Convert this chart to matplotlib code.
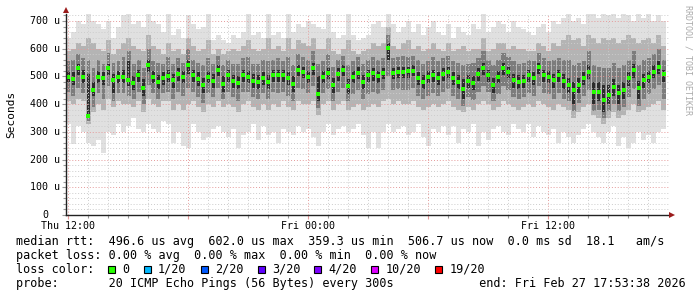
import matplotlib
matplotlib.use("Agg")
import matplotlib.pyplot as plt
import numpy as np
from matplotlib.patches import Rectangle

# ---------------- data (microseconds), 15-minute columns over 30 h ----------------
median_us = [499, 490, 529, 499, 359, 451, 499, 493, 529, 487, 499, 499, 487, 475, 505, 457,
             541, 499, 481, 493, 503, 487, 509, 499, 541, 505, 491, 469, 499, 485, 523,
             473, 505, 485, 478, 505, 499, 485, 481, 493, 481, 505, 505, 505, 493, 473, 523,
             517, 499, 529, 437, 499, 511, 469, 509, 523, 465, 499, 513, 481, 505,
             511, 501, 511, 602, 513, 517, 517, 518, 520, 493, 481, 499, 505, 493, 509, 517,
             493, 481, 453, 485, 475, 509, 529, 505, 469, 499, 529, 517, 487, 481,
             485, 505, 493, 533, 505, 499, 487, 505, 483, 469, 451, 469, 493, 517, 445, 445,
             415, 433, 461, 441, 451, 493, 523, 457, 487, 499, 517, 535, 507]

smoke_max = [640, 660, 700, 690, 725, 700, 690, 670, 700, 640, 680, 720, 725, 690, 700, 680,
             725, 700, 690, 660, 725, 650, 670, 640, 720, 690, 670, 680, 725, 630, 650,
             630, 620, 650, 640, 660, 725, 650, 660, 640, 725, 650, 660, 640, 725, 660, 690,
             680, 700, 690, 680, 670, 725, 660, 640, 650, 725, 650, 630, 640, 650,
             690, 700, 680, 725, 690, 660, 680, 700, 660, 690, 650, 680, 700, 660, 650, 690,
             640, 680, 660, 650, 690, 670, 725, 660, 680, 700, 690, 660, 700, 680,
             670, 660, 650, 680, 690, 660, 700, 690, 710, 725, 700, 710, 690, 725, 725, 710,
             725, 720, 725, 710, 725, 720, 700, 725, 710, 725, 700, 720, 700]

smoke_min = [330, 255, 320, 300, 260, 250, 270, 225, 300, 290, 330, 300, 320, 350, 310, 300,
             330, 310, 300, 340, 330, 260, 300, 250, 240, 330, 300, 270, 280, 310, 320,
             300, 280, 310, 240, 290, 300, 330, 270, 320, 290, 300, 260, 310, 300, 290, 320,
             300, 310, 280, 250, 300, 330, 290, 310, 320, 300, 310, 330, 290, 240,
             300, 240, 300, 330, 300, 310, 320, 290, 300, 330, 280, 250, 310, 300, 320, 290,
             320, 260, 310, 300, 330, 250, 300, 270, 310, 320, 300, 290, 330, 310,
             300, 330, 280, 320, 300, 290, 310, 260, 300, 280, 260, 290, 310, 330, 300, 280,
             260, 300, 320, 250, 280, 240, 260, 300, 270, 290, 260, 300, 310]

smoke_hi = [590, 600, 620, 610, 640, 620, 600, 590, 630, 580, 600, 620, 640, 610, 600, 590,
            650, 610, 600, 580, 620, 590, 600, 580, 640, 610, 590, 600, 630, 580, 600,
            580, 590, 600, 590, 610, 630, 600, 590, 600, 640, 600, 610, 590, 640, 600, 630,
            620, 610, 640, 600, 600, 640, 590, 580, 600, 630, 590, 580, 590, 600,
            620, 610, 620, 680, 610, 600, 620, 630, 600, 610, 590, 600, 620, 600, 590, 620,
            590, 600, 610, 590, 600, 600, 640, 590, 600, 620, 620, 600, 610, 600,
            600, 590, 590, 620, 610, 590, 620, 610, 630, 650, 630, 640, 610, 650, 640, 620,
            640, 630, 640, 620, 630, 650, 640, 620, 630, 640, 620, 650, 610]

smoke_lo = [410, 400, 420, 410, 330, 370, 400, 380, 420, 390, 410, 400, 400, 390, 410, 370,
            420, 400, 390, 410, 410, 380, 400, 380, 400, 410, 390, 370, 400, 390, 410,
            390, 400, 390, 370, 400, 410, 390, 380, 400, 380, 400, 390, 410, 390, 380, 410,
            400, 400, 410, 360, 400, 410, 380, 400, 410, 380, 390, 400, 380, 390,
            400, 390, 410, 420, 400, 410, 400, 400, 410, 390, 380, 390, 400, 390, 400, 410,
            390, 380, 370, 390, 380, 400, 410, 400, 380, 390, 410, 400, 390, 380,
            390, 400, 390, 410, 400, 390, 380, 400, 390, 380, 350, 370, 390, 400, 360, 350,
            330, 350, 370, 350, 360, 380, 400, 370, 380, 390, 400, 410, 380]

inner_hi = [555, 560, 580, 565, 560, 530, 560, 545, 585, 550, 555, 570, 590, 545, 560, 530,
            600, 555, 550, 545, 570, 545, 565, 550, 600, 560, 550, 540, 565, 545, 575,
            540, 560, 545, 545, 565, 570, 545, 545, 560, 555, 560, 565, 555, 570, 540, 580,
            570, 560, 590, 545, 555, 580, 535, 560, 575, 540, 555, 570, 545, 560,
            570, 560, 565, 650, 565, 570, 575, 570, 575, 560, 545, 555, 570, 555, 565, 575,
            555, 550, 540, 545, 550, 565, 590, 560, 540, 560, 585, 570, 555, 545,
            550, 560, 555, 585, 565, 555, 560, 565, 560, 560, 540, 550, 555, 590, 540, 535,
            530, 530, 550, 530, 540, 560, 590, 540, 560, 565, 580, 600, 560]

inner_lo = [445, 430, 460, 440, 340, 390, 440, 420, 465, 410, 440, 440, 430, 420, 445, 400,
            470, 440, 420, 440, 445, 420, 445, 430, 460, 445, 425, 405, 440, 425, 460,
            420, 445, 425, 410, 445, 445, 425, 420, 440, 420, 445, 440, 445, 430, 410, 460,
            455, 440, 465, 385, 440, 455, 410, 445, 460, 410, 435, 450, 420, 435,
            445, 435, 450, 500, 450, 455, 450, 450, 460, 430, 420, 430, 440, 430, 445, 455,
            430, 420, 395, 425, 415, 445, 465, 445, 410, 435, 465, 450, 425, 420,
            425, 440, 430, 465, 440, 435, 420, 440, 420, 410, 375, 405, 430, 450, 375, 380,
            350, 375, 400, 375, 390, 425, 455, 395, 420, 435, 455, 470, 420]

core_hi = [520, 515, 545, 525, 510, 480, 520, 515, 545, 510, 520, 525, 555, 500, 525, 490,
           560, 520, 505, 515, 525, 510, 530, 520, 560, 525, 515, 495, 520, 510, 540,
           500, 525, 505, 500, 525, 520, 510, 505, 515, 505, 525, 525, 525, 515, 500, 540,
           535, 520, 550, 500, 520, 530, 495, 530, 540, 490, 520, 535, 505, 525,
           530, 520, 530, 620, 530, 535, 535, 535, 540, 515, 505, 520, 525, 515, 530, 535,
           515, 505, 490, 505, 500, 530, 550, 525, 495, 520, 550, 535, 510, 505,
           505, 525, 515, 550, 525, 520, 510, 525, 510, 495, 480, 495, 515, 540, 480, 480,
           470, 470, 490, 470, 480, 515, 545, 485, 510, 520, 540, 555, 525]

core_lo = [480, 470, 505, 475, 355, 430, 475, 470, 505, 440, 475, 475, 465, 450, 480, 430,
           515, 475, 455, 470, 480, 460, 485, 475, 510, 480, 465, 440, 475, 460, 500,
           445, 480, 460, 455, 480, 475, 460, 455, 470, 455, 480, 480, 480, 470, 445, 500,
           495, 475, 505, 410, 475, 490, 440, 485, 500, 435, 475, 490, 455, 480,
           485, 475, 490, 560, 490, 495, 495, 495, 500, 470, 455, 475, 480, 470, 485, 495,
           470, 455, 420, 460, 450, 485, 505, 480, 440, 475, 505, 495, 460, 455,
           460, 480, 470, 510, 480, 475, 460, 480, 455, 440, 400, 440, 470, 490, 400, 410,
           370, 400, 430, 400, 420, 465, 495, 420, 460, 475, 495, 510, 480]

y_ticks = [0, 100, 200, 300, 400, 500, 600, 700]
y_tick_labels = ["0", "100 u", "200 u", "300 u", "400 u", "500 u", "600 u", "700 u"]
x_ticks_h = [12, 24, 36]
x_tick_labels = ["Thu 12:00", "Fri 00:00", "Fri 12:00"]

loss_labels = ["0", "1/20", "2/20", "3/20", "4/20", "10/20", "19/20"]
loss_colors = ["#26ff00", "#00b8ff", "#0059ff", "#5e00ff", "#7e00ff", "#dd00ff", "#ff0000"]

stat_line1 = ("median rtt:  496.6 us avg  602.0 us max  359.3 us min  "
              "506.7 us now  0.0 ms sd  18.1   am/s")
stat_line2 = "packet loss: 0.00 % avg  0.00 % max  0.00 % min  0.00 % now"
stat_line3 = "loss color:"
stat_line4 = ("probe:       20 ICMP Echo Pings (56 Bytes) every 300s"
              "            end: Fri Feb 27 17:53:38 2026")

# ---------------- layout ----------------
W, H = 697, 297
MONO = "DejaVu Sans Mono"
FS = 8.5
CW = FS * 100 / 72 * 0.602   # monospace advance in px

fig = plt.figure(figsize=(W / 100, H / 100), dpi=100, facecolor="white")
ax = fig.add_axes([66 / W, (H - 215) / H, (669 - 66) / W, (215 - 14) / H])
ax.set_facecolor("white")

t0 = 11 + 53 / 60 + 38 / 3600      # Thu 11:53:38
step = 0.25                        # hours per column
n = len(median_us)
xc = t0 + step * (np.arange(n) + 0.5)

layers = [
    (smoke_min, smoke_max, "#e0e0e0", 1.0),
    (smoke_lo, smoke_hi, "#b4b4b4", 1.0),
    (inner_lo, inner_hi, "#7c7c7c", 0.8),
    (core_lo, core_hi, "#2c2c2c", 0.55),
]
for lo, hi, col, wf in layers:
    lo = np.array(lo, float)
    hi = np.array(hi, float)
    ax.bar(xc, hi - lo, bottom=lo, width=step * wf, color=col, linewidth=0,
           antialiased=False, zorder=1)

ax.plot(xc, np.array(median_us, float), linestyle="none", marker="s", ms=2.6, mew=0,
        color=loss_colors[0], zorder=4)

ax.set_xlim(t0, t0 + 30 + 0.15)
ax.set_ylim(0, 725.3)

# grid
ax.set_yticks(y_ticks)
ax.set_yticks(np.arange(0, 721, 20), minor=True)
ax.set_xticks(np.arange(12, 42, 6))
ax.set_xticks(np.arange(12, 42, 1), minor=True)
ax.set_xticklabels([x_tick_labels[x_ticks_h.index(v)] if v in x_ticks_h else ""
                    for v in np.arange(12, 42, 6)],
                   fontfamily=MONO, fontsize=7.2)
ax.set_yticklabels([])
ax.set_axisbelow(False)
dots = (0, (1, 2))
ax.grid(True, which="minor", color="#cccccc", linestyle=dots, linewidth=0.7)
ax.grid(True, which="major", color="#e59a9a", linestyle=dots, linewidth=0.7)
ax.tick_params(axis="both", which="both", direction="out", color="#999999", width=0.8)
ax.tick_params(axis="y", which="major", length=3)
ax.tick_params(axis="y", which="minor", length=2)
ax.tick_params(axis="x", which="major", length=3, pad=1.5, color="#e59a9a")
ax.tick_params(axis="x", which="minor", length=2)

for s in ["top", "right"]:
    ax.spines[s].set_visible(False)
for s in ["left", "bottom"]:
    ax.spines[s].set_color("#222222")
    ax.spines[s].set_linewidth(1.0)
    ax.spines[s].set_zorder(5)

# arrows
ax.plot([0], [1 + 4 / 201], marker="^", ms=4.5, color="#9b1b1b", mew=0,
        transform=ax.transAxes, clip_on=False, zorder=6)
ax.plot([1 + 3 / 603], [0], marker=">", ms=4.5, color="#9b1b1b", mew=0,
        transform=ax.transAxes, clip_on=False, zorder=6)

# y tick labels (monospace, right-aligned; the zero sits under the last digit)
ytr = ax.get_yaxis_transform()
for v, lab in zip(y_ticks, y_tick_labels):
    off = -6 if lab != "0" else -18
    ax.text(off / 603, v, lab, transform=ytr, ha="right", va="center",
            fontfamily=MONO, fontsize=7.2, color="#000000")

# axis title and watermark
fig.text(11 / W, 1 - 114 / H, "Seconds", rotation=90, ha="center", va="center",
         fontfamily=MONO, fontsize=8.0, color="#000000")
fig.text(688 / W, 1 - 5 / H, "RRDTOOL / TOBI OETIKER", rotation=270, ha="center",
         va="top", fontfamily=MONO, fontsize=6.0, color="#aaaaaa")

# legend / stats
def ftxt(x, y, s):
    fig.text(x / W, 1 - y / H, s, ha="left", va="center", fontfamily=MONO,
             fontsize=FS, color="#000000")

X0 = 16
ftxt(X0, 241.5, stat_line1)
ftxt(X0, 255.5, stat_line2)
ftxt(X0, 269.5, stat_line3)
ftxt(X0, 283.5, stat_line4)

cx = X0 + 13 * CW
for lab, col in zip(loss_labels, loss_colors):
    fig.add_artist(Rectangle((cx / W, 1 - 273 / H), 7 / W, 7.5 / H,
                             transform=fig.transFigure, facecolor=col,
                             edgecolor="#000000", linewidth=0.8))
    ftxt(cx + 2 * CW, 269.5, lab)
    cx += (len(lab) + 4) * CW

fig.savefig("out.png", dpi=100, facecolor="white")
